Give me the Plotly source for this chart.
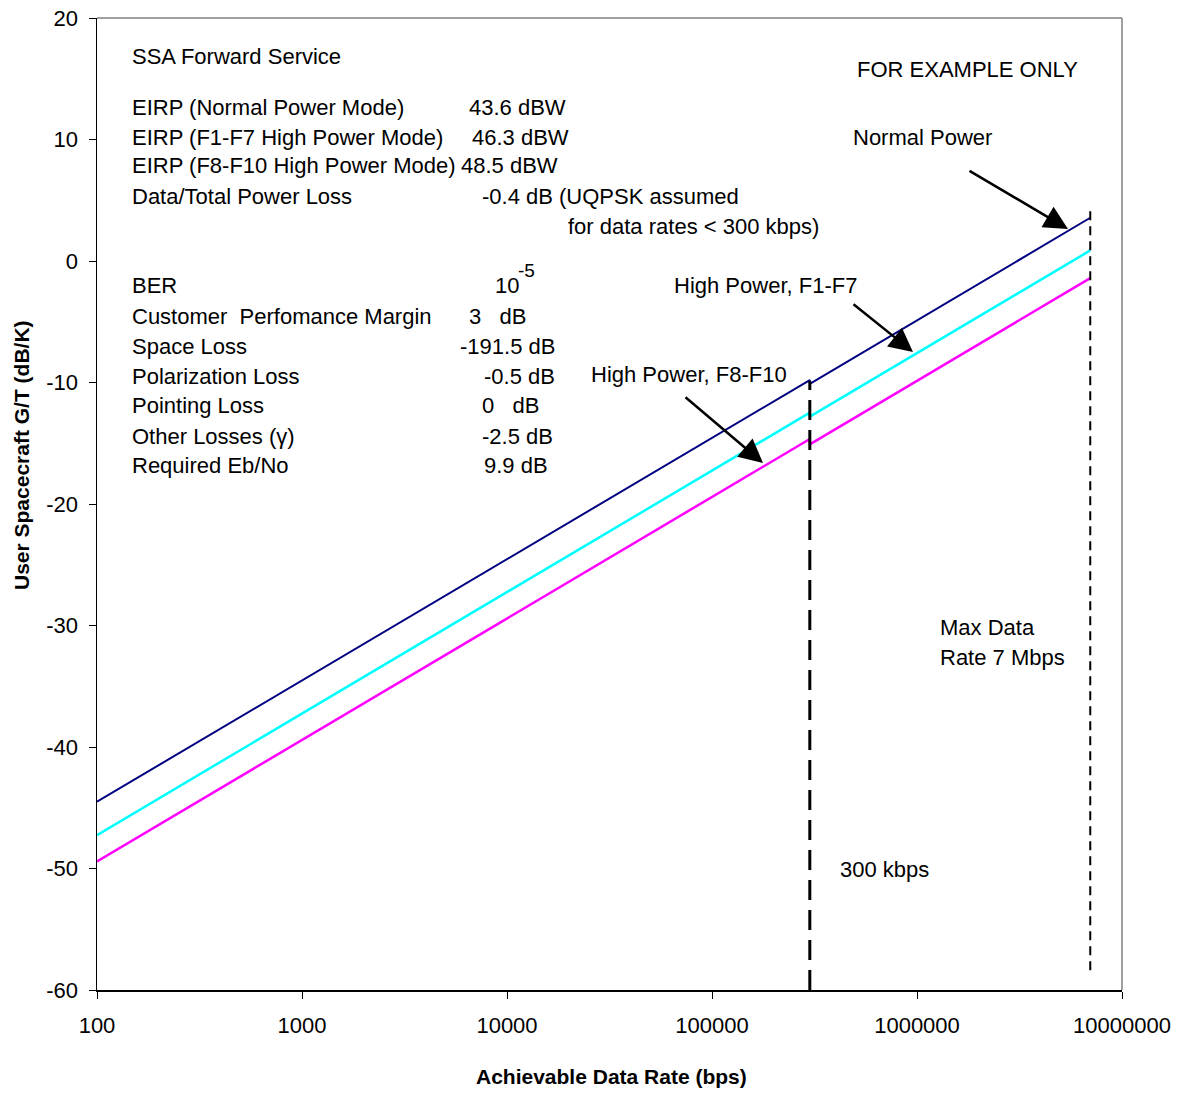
import plotly.graph_objects as go

# ---- data ----
rate = [100, 300000, 300000, 7000000]
normal_power = [-44.5, -9.8, -10.12, 3.56]
high_f1_f7 = [-47.25, -12.48, -12.81, 0.87]
high_f8_f10 = [-49.42, -14.65, -15.09, -1.41]

kbps300_x = [300000, 300000]
kbps300_y = [-60, -9.9]
max7_x = [7000000, 7000000]
max7_y = [4.1, -58.8]

x_tickvals = [100, 1000, 10000, 100000, 1000000, 10000000]
x_ticktext = ["100", "1000", "10000", "100000", "1000000", "10000000"]
y_tickvals = [-60, -50, -40, -30, -20, -10, 0, 10, 20]
y_ticktext = ["-60", "-50", "-40", "-30", "-20", "-10", "0", "10", "20"]

# body margin removed via post_script, so the figure fills the window
OFF = 0
W, H = 1183 - OFF, 1093 - OFF
# plot area in screenshot pixels
L, R, T, B = 97, 1122, 18, 990
FONT = "Liberation Sans, Arial, sans-serif"
FS = 22


def px(xp):
    return (xp - L) / (R - L)


def py(yp):
    return (B - yp) / (B - T)


fig = go.Figure()
fig.add_trace(go.Scatter(x=rate, y=normal_power, mode="lines",
                         line=dict(color="#000080", width=2), name="Normal Power"))
fig.add_trace(go.Scatter(x=rate, y=high_f1_f7, mode="lines",
                         line=dict(color="#00FFFF", width=2.5), name="High Power, F1-F7"))
fig.add_trace(go.Scatter(x=rate, y=high_f8_f10, mode="lines",
                         line=dict(color="#FF00FF", width=2.5), name="High Power, F8-F10"))
fig.add_trace(go.Scatter(x=kbps300_x, y=kbps300_y, mode="lines",
                         line=dict(color="black", width=3, dash="20px,10px"), name="300 kbps"))
fig.add_trace(go.Scatter(x=max7_x, y=max7_y, mode="lines",
                         line=dict(color="black", width=2, dash="9px,6px"), name="7 Mbps"))

annotations = []


def txt(x, y, s, size=FS, bold=False):
    annotations.append(dict(x=px(x), y=py(y), xref="paper", yref="paper",
                            text=("<b>%s</b>" % s) if bold else s,
                            showarrow=False, xanchor="left", yanchor="middle",
                            font=dict(family=FONT, size=size, color="black")))


txt(130, 57, "SSA Forward Service")
txt(855, 70, "FOR EXAMPLE ONLY")
rows = [
    (107, "EIRP (Normal Power Mode)", 467, "43.6 dBW"),
    (137, "EIRP (F1-F7 High Power Mode)", 470, "46.3 dBW"),
    (166, "EIRP (F8-F10 High Power Mode)", 459, "48.5 dBW"),
    (196, "Data/Total Power Loss", 480, "-0.4 dB (UQPSK assumed"),
    (316, "Customer\u00a0\u00a0Perfomance Margin", 467, "3\u00a0\u00a0\u00a0dB"),
    (346, "Space Loss", 458, "-191.5 dB"),
    (376, "Polarization Loss", 482, "-0.5 dB"),
    (406, "Pointing Loss", 480, "0\u00a0\u00a0\u00a0dB"),
    (436, "Other Losses (\u03b3)", 480, "-2.5 dB"),
    (465, "Required Eb/No", 482, "9.9 dB"),
]
for yy, lab, xv, val in rows:
    txt(130, yy, lab)
    txt(xv, yy, val)
txt(566, 226, "for data rates < 300 kbps)")
txt(130, 286, "BER")
txt(493, 286, "10")
txt(516, 270, "-5", size=19)
txt(851, 137, "Normal Power")
txt(672, 285, "High Power, F1-F7")
txt(589, 374, "High Power, F8-F10")
txt(938, 627, "Max Data")
txt(938, 657, "Rate 7 Mbps")
txt(838, 869, "300 kbps")

# arrows (tail pixel -> tip pixel)
for (tx, ty, hx, hy) in [(968, 170, 1068, 229), (852, 303, 913, 352), (684, 396, 763, 463)]:
    annotations.append(dict(x=px(hx), y=py(hy), xref="paper", yref="paper",
                            ax=tx - hx, ay=ty - hy, text="", showarrow=True,
                            arrowhead=2, arrowsize=1.9, arrowwidth=2.5, arrowcolor="black",
                            standoff=0, startstandoff=0))

# axis titles
annotations.append(dict(x=px(21), y=py(455), xref="paper", yref="paper",
                        text="<b>User Spacecraft G/T (dB/K)</b>", textangle=-90,
                        showarrow=False, xanchor="center", yanchor="middle",
                        font=dict(family=FONT, size=21, color="black")))
annotations.append(dict(x=px(611), y=py(1076), xref="paper", yref="paper",
                        text="<b>Achievable Data Rate (bps)</b>",
                        showarrow=False, xanchor="center", yanchor="middle",
                        font=dict(family=FONT, size=21, color="black")))

fig.update_layout(
    width=W, height=H,
    margin=dict(l=L - OFF, r=W - (R - OFF), t=T - OFF, b=H - (B - OFF), autoexpand=False),
    paper_bgcolor="white", plot_bgcolor="white",
    showlegend=False,
    hovermode=False,
    font=dict(family=FONT, size=FS, color="black"),
    annotations=annotations,
    shapes=[
        dict(type="line", xref="paper", yref="paper", x0=0, x1=1, y0=1, y1=1,
             line=dict(color="#808080", width=1.5)),
        dict(type="line", xref="paper", yref="paper", x0=1, x1=1, y0=0, y1=1,
             line=dict(color="#808080", width=1.5)),
    ],
    xaxis=dict(type="log", range=[2, 7], tickvals=x_tickvals, ticktext=x_ticktext,
               showgrid=False, zeroline=False, showline=True, linecolor="black", linewidth=1.5,
               ticks="outside", ticklen=7, tickcolor="black", automargin=False,
               ticklabelstandoff=8, ticklabeloverflow="allow",
               tickfont=dict(family=FONT, size=FS)),
    yaxis=dict(range=[-60, 20], tickvals=y_tickvals, ticktext=y_ticktext,
               showgrid=False, zeroline=False, showline=True, linecolor="black", linewidth=1.5,
               ticks="outside", ticklen=7, tickcolor="black", automargin=False,
               ticklabelstandoff=6, ticklabeloverflow="allow",
               tickfont=dict(family=FONT, size=FS)),
)

fig.write_html("out.html",
               config={"displayModeBar": False, "staticPlot": True},
               post_script="document.body.style.margin='0px';document.body.style.overflow='hidden';")
